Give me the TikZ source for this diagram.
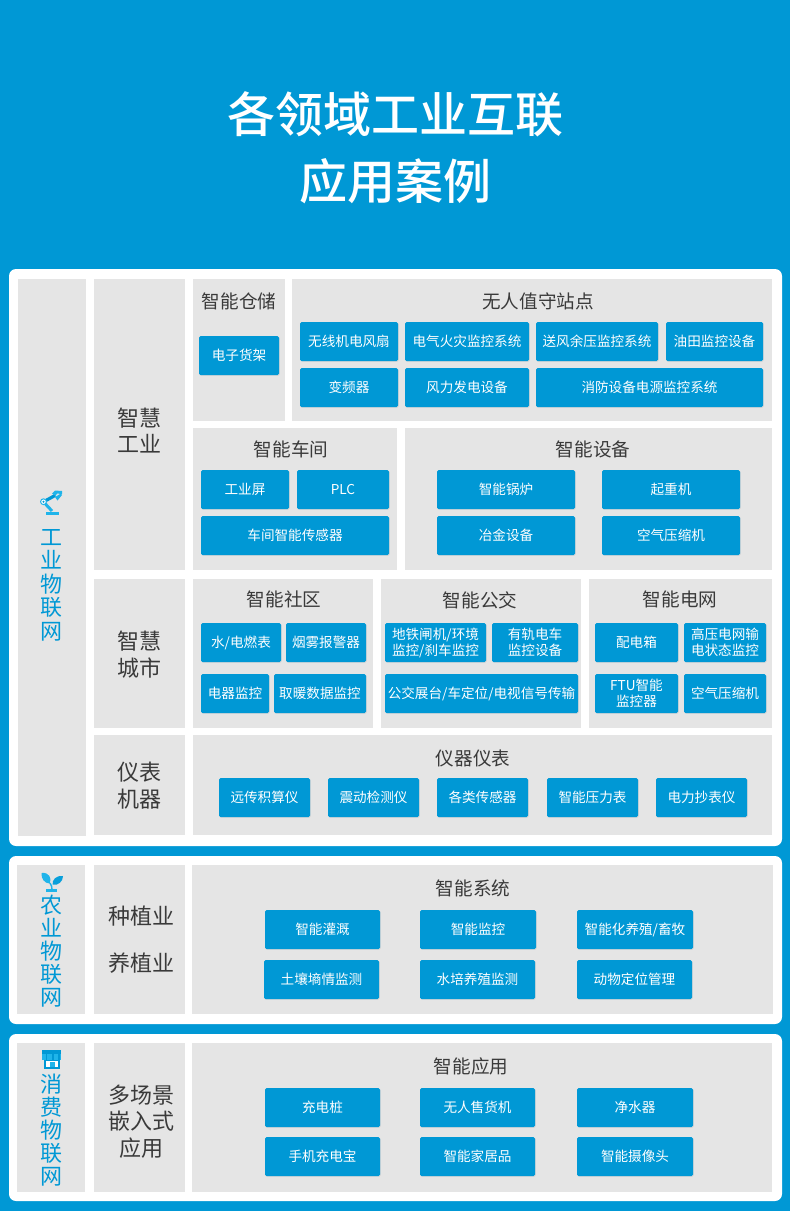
\documentclass[tikz,border=0pt]{standalone}
\usepackage{fontspec}
\setmainfont{Noto Sans CJK SC}
\newfontfamily\titlefont{Noto Sans CJK SC Medium}
\usetikzlibrary{shadows}
\definecolor{bgblue}{HTML}{0098D5}
\definecolor{panelgray}{HTML}{E5E5E5}
\definecolor{inkdark}{HTML}{3A3A3A}
\definecolor{iconcyan}{HTML}{1FB4EA}
\newcommand{\fsz}[2]{\fontsize{#1}{#2}\selectfont}
\tikzset{
  whitepanel/.style={fill=white,rounded corners=7pt,inner sep=0,outer sep=0},
  graybox/.style={fill=panelgray,inner sep=0,outer sep=0},
  bluebox/.style={fill=bgblue,rounded corners=1.5pt,inner sep=0,outer sep=0,text=white,align=center,
    font=\fsz{13.6}{16},drop shadow={opacity=.12,shadow xshift=.8pt,shadow yshift=-.8pt}},
  heading/.style={text=inkdark,font=\fsz{18.6}{24},inner sep=0,align=center},
  sidetext/.style={text=inkdark,font=\fsz{22}{26.8},inner sep=0,align=center},
  vertext/.style={text=bgblue,font=\fsz{22}{23},inner sep=0,align=center},
  titletext/.style={text=white,font=\titlefont\fsz{48}{58},inner sep=0,align=center},
}
% name, x1, y1, x2, y2
\newcommand{\rbox}[6]{\node[#1,minimum width={#4-#2},minimum height={#5-#3}] (#6) at ({(#2+#4)/2},{(#3+#5)/2}) {};}
% name, x1, y1, x2, y2, text
\newcommand{\bbox}[6]{\node[bluebox,minimum width={#4-#2},minimum height={#5-#3}] (#1) at ({(#2+#4)/2},{(#3+#5)/2}) {#6};}
\begin{document}
\begin{tikzpicture}[x=1pt,y=-1pt]
\useasboundingbox (0,0) rectangle (790,1211);
\fill[bgblue] (0,0) rectangle (790,1211);
% title
\node[titletext] (title1) at (395,114) {各领域工业互联};
\node[titletext] (title2) at (395,181) {应用案例};
% white panels
\rbox{whitepanel}{9}{269}{782}{846}{p1}
\rbox{whitepanel}{9}{856}{782}{1024}{p2}
\rbox{whitepanel}{9}{1034}{782}{1201}{p3}
% gray panels
\rbox{graybox}{18}{279}{86}{836}{g1}
\rbox{graybox}{94}{279}{185}{570}{g2}
\rbox{graybox}{94}{579}{185}{728}{g3}
\rbox{graybox}{94}{735}{185}{835}{g4}
\rbox{graybox}{193}{279}{285}{421}{g5}
\rbox{graybox}{292}{279}{772}{421}{g6}
\rbox{graybox}{193}{428}{397}{570}{g7}
\rbox{graybox}{405}{428}{772}{570}{g8}
\rbox{graybox}{193}{579}{373}{728}{g9}
\rbox{graybox}{381}{579}{581}{728}{g10}
\rbox{graybox}{589}{579}{772}{728}{g11}
\rbox{graybox}{193}{735}{772}{835}{g12}
\rbox{graybox}{17}{865}{85}{1014}{g13}
\rbox{graybox}{94}{865}{185}{1014}{g14}
\rbox{graybox}{192}{865}{773}{1014}{g15}
\rbox{graybox}{17}{1043}{85}{1192}{g16}
\rbox{graybox}{94}{1043}{185}{1192}{g17}
\rbox{graybox}{192}{1043}{772}{1192}{g18}
% headings
\node[heading] (h1) at (239,301) {智能仓储};
\node[heading] (h2) at (538,301) {无人值守站点};
\node[heading] (h3) at (291,449) {智能车间};
\node[heading] (h4) at (593,449) {智能设备};
\node[heading] (h5) at (284,599) {智能社区};
\node[heading] (h6) at (480,600) {智能公交};
\node[heading] (h7) at (680,599) {智能电网};
\node[heading] (h8) at (473,758) {仪器仪表};
\node[heading] (h9) at (473,888) {智能系统};
\node[heading] (h10) at (471,1066) {智能应用};
% side labels
\node[sidetext] (s1) at (139,430.5) {智慧\\工业};
\node[sidetext] (s2) at (139,654.5) {智慧\\城市};
\node[sidetext] (s3) at (139,785.5) {仪表\\机器};
\node[sidetext] (s4) at (141,916) {种植业};
\node[sidetext] (s5) at (141,963) {养植业};
\node[sidetext] (s6) at (141,1121.5) {多场景\\嵌入式\\应用};
% vertical labels
\node[vertext,font=\fsz{22}{23.5}] (v1) at (51,585) {工\\业\\物\\联\\网};
\node[vertext] (v2) at (51,951) {农\\业\\物\\联\\网};
\node[vertext] (v3) at (51,1130) {消\\费\\物\\联\\网};
% blue boxes
\bbox{b1}{199}{336}{279}{375}{电子货架}
\bbox{b2}{300}{322}{398}{361}{无线机电风扇}
\bbox{b3}{405}{322}{529}{361}{电气火灾监控系统}
\bbox{b4}{536}{322}{658}{361}{送风余压监控系统}
\bbox{b5}{666}{322}{763}{361}{油田监控设备}
\bbox{b6}{300}{368}{398}{407}{变频器}
\bbox{b7}{405}{368}{529}{407}{风力发电设备}
\bbox{b8}{536}{368}{763}{407}{消防设备电源监控系统}
\bbox{b9}{201}{470}{289}{509}{工业屏}
\bbox{b10}{297}{470}{389}{509}{\raisebox{1pt}{PLC}}
\bbox{b11}{201}{516}{389}{555}{车间智能传感器}
\bbox{b12}{437}{470}{575}{509}{智能锅炉}
\bbox{b13}{602}{470}{740}{509}{起重机}
\bbox{b14}{437}{516}{575}{555}{冶金设备}
\bbox{b15}{602}{516}{740}{555}{空气压缩机}
\bbox{b16}{201}{623}{281}{662}{水/电燃表}
\bbox{b17}{286}{623}{366}{662}{烟雾报警器}
\bbox{b18}{201}{674}{269}{713}{电器监控}
\bbox{b19}{274}{674}{366}{713}{取暖数据监控}
\bbox{b20}{385}{623}{486}{662}{地铁闸机/环境\\监控/刹车监控}
\bbox{b21}{492}{623}{578}{662}{有轨电车\\监控设备}
\bbox{b22}{385}{674}{578}{713}{公交展台/车定位/电视信号传输}
\bbox{b23}{595}{623}{678}{662}{配电箱}
\bbox{b24}{684}{623}{766}{662}{高压电网输\\电状态监控}
\bbox{b25}{595}{674}{678}{713}{FTU智能\\监控器}
\bbox{b26}{684}{674}{766}{713}{空气压缩机}
\bbox{b27}{219}{778}{310}{817}{远传积算仪}
\bbox{b28}{328}{778}{419}{817}{震动检测仪}
\bbox{b29}{437}{778}{528}{817}{各类传感器}
\bbox{b30}{547}{778}{638}{817}{智能压力表}
\bbox{b31}{656}{778}{747}{817}{电力抄表仪}
\bbox{b32}{265}{910}{380}{949}{智能灌溉}
\bbox{b33}{420}{910}{536}{949}{智能监控}
\bbox{b34}{577}{910}{693}{949}{智能化养殖/畜牧}
\bbox{b35}{264}{960}{379}{999}{土壤墒情监测}
\bbox{b36}{420}{960}{535}{999}{水培养殖监测}
\bbox{b37}{577}{960}{692}{999}{动物定位管理}
\bbox{b38}{265}{1088}{380}{1127}{充电桩}
\bbox{b39}{420}{1088}{535}{1127}{无人售货机}
\bbox{b40}{577}{1088}{693}{1127}{净水器}
\bbox{b41}{265}{1137}{380}{1176}{手机充电宝}
\bbox{b42}{420}{1137}{535}{1176}{智能家居品}
\bbox{b43}{577}{1137}{693}{1176}{智能摄像头}
% robot arm icon
\fill[iconcyan] (46,511.5) rectangle (59,514.5);
\draw[iconcyan,line width=3pt] (45,503.5) -- (52,511);
\draw[bgblue,line width=3.2pt] (45,501) -- (55,495.5);
\fill[iconcyan] (52,493.5) -- (55,490.5) -- (62,491) -- (62,494) -- (57,493.5) -- (55.5,496) -- cycle;
\fill[iconcyan] (55,497) -- (61,493.5) -- (62,495) -- (57.5,500.5) -- cycle;
\filldraw[draw=iconcyan,fill=white,line width=1pt] (43.5,501.7) circle (2.9);
\fill[bgblue] (43.5,501.7) circle (1.1);
% sprout icon
\fill[iconcyan] (41.5,873) .. controls (49,872) and (52,878) .. (49.8,883.5) .. controls (44.5,883.5) and (41,878.5) .. (41.5,873) -- cycle;
\fill[bgblue!70!iconcyan] (63,876.2) .. controls (56,875) and (52,880) .. (52.6,884.6) .. controls (58,886) and (63,881.5) .. (63,876.2) -- cycle;
\draw[iconcyan,line width=1.4pt] (50,883) .. controls (51.5,885) and (52,887) .. (52,889.5);
\fill[iconcyan] (46,889.3) rectangle (57,891.5);
% shop icon
\fill[bgblue] (42,1050) rectangle (61,1053.5);
\fill[iconcyan] (42,1053.5) rectangle (61,1060);
\foreach \sx in {45.5,52,58} \fill[bgblue] (\sx,1053.5) rectangle +(1.6,6.5);
\fill[bgblue] (43.5,1060) rectangle (60,1069);
\fill[white] (45.5,1060.5) rectangle (58,1067);
\fill[iconcyan] (49.5,1061.5) rectangle (55,1067);
\end{tikzpicture}
\end{document}
